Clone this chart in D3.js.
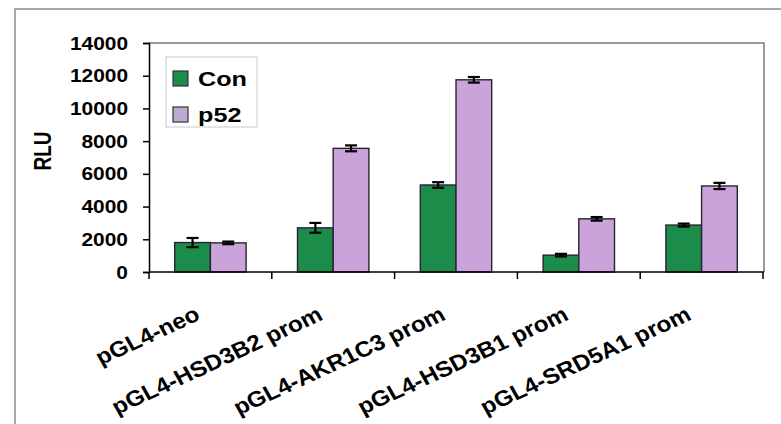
<!DOCTYPE html>
<html>
<head>
<meta charset="utf-8">
<script src="https://cdn.jsdelivr.net/npm/d3@7"></script>
<style>
  html, body { margin: 0; padding: 0; background: #fff; }
  svg { display: block; font-family: "Liberation Sans", Arial, sans-serif; }
</style>
</head>
<body>
<svg id="chart" width="781" height="424"></svg>
<script>
// Luciferase reporter activity per construct
const constructs = ["pGL4-neo", "pGL4-HSD3B2 prom", "pGL4-AKR1C3 prom", "pGL4-HSD3B1 prom", "pGL4-SRD5A1 prom"];
const seriesNames = ["Con", "p52"];
const conValues = [1800, 2700, 5320, 1030, 2870];
const conErrors = [280, 300, 170, 80, 90];
const p52Values = [1780, 7560, 11750, 3250, 5260];
const p52Errors = [80, 180, 170, 110, 190];
const yTicks = [0, 2000, 4000, 6000, 8000, 10000, 12000, 14000];
const yLabel = "RLU";

const colors = { Con: "#1c8c4a", p52: "#c9a3d9" };
const legendColors = { Con: "#1c8c4a", p52: "#bcaad0" };

const rows = constructs.map((c, i) => ({
  construct: c,
  bars: [
    { series: "Con", value: conValues[i], err: conErrors[i] },
    { series: "p52", value: p52Values[i], err: p52Errors[i] }
  ]
}));

const svg = d3.select("#chart");
const plot = { left: 149, right: 764, top: 43, bottom: 272 };

// outer chart frame
svg.append("rect")
  .attr("x", 15).attr("y", 9).attr("width", 800).attr("height", 440)
  .attr("fill", "none").attr("stroke", "#a8a8a8").attr("stroke-width", 2);

const x0 = d3.scaleBand().domain(constructs).range([plot.left, plot.right - 1]).padding(0);
const x1 = d3.scaleBand().domain(seriesNames).range([0, x0.bandwidth()])
  .paddingInner(0).paddingOuter(0.72);
const y = d3.scaleLinear().domain([0, 14000]).range([plot.bottom, plot.top]);

// plot area border (top and right)
svg.append("path")
  .attr("d", `M${plot.left},${plot.top}H${plot.right}V${plot.bottom}`)
  .attr("fill", "none").attr("stroke", "#7a7a7a").attr("stroke-width", 1.5);

// bars
const groups = svg.append("g").selectAll("g").data(rows).join("g")
  .attr("transform", d => `translate(${x0(d.construct)},0)`);

groups.selectAll("rect").data(d => d.bars).join("rect")
  .attr("x", d => x1(d.series))
  .attr("y", d => y(d.value))
  .attr("width", x1.bandwidth())
  .attr("height", d => y(0) - y(d.value))
  .attr("fill", d => colors[d.series])
  .attr("stroke", "#2a2233").attr("stroke-width", 1.4);

// error bars
const capHalf = 6;
const eb = groups.selectAll("g.err").data(d => d.bars).join("g").attr("class", "err")
  .attr("stroke", "#000").attr("stroke-width", 2.2);
eb.append("line")
  .attr("x1", d => x1(d.series) + x1.bandwidth() / 2)
  .attr("x2", d => x1(d.series) + x1.bandwidth() / 2)
  .attr("y1", d => y(d.value + d.err))
  .attr("y2", d => y(d.value - d.err));
eb.append("line")
  .attr("x1", d => x1(d.series) + x1.bandwidth() / 2 - capHalf)
  .attr("x2", d => x1(d.series) + x1.bandwidth() / 2 + capHalf)
  .attr("y1", d => y(d.value + d.err))
  .attr("y2", d => y(d.value + d.err));
eb.append("line")
  .attr("x1", d => x1(d.series) + x1.bandwidth() / 2 - capHalf)
  .attr("x2", d => x1(d.series) + x1.bandwidth() / 2 + capHalf)
  .attr("y1", d => y(d.value - d.err))
  .attr("y2", d => y(d.value - d.err));

// y axis
const yAxis = svg.append("g")
  .attr("transform", `translate(${plot.left},0)`)
  .call(d3.axisLeft(y).tickValues(yTicks).tickSize(6).tickPadding(15).tickFormat(d3.format("d")));
yAxis.select(".domain").attr("stroke", "#000").attr("stroke-width", 1.5);
yAxis.selectAll(".tick line").attr("stroke", "#000").attr("stroke-width", 1.5);
yAxis.selectAll(".tick text")
  .attr("font-size", 19).attr("font-weight", "bold").attr("fill", "#000")
  .attr("font-family", "Liberation Sans, Arial, sans-serif")
  .each(function () {
    const t = d3.select(this);
    const xPos = +t.attr("x");
    t.attr("x", null)
      .attr("transform", `translate(${xPos},0) scale(1.1,1)`);
  });

// x axis with ticks at category boundaries
const boundaries = constructs.map(c => x0(c)).concat([x0(constructs[constructs.length - 1]) + x0.bandwidth()]);
const xAxis = svg.append("g");
xAxis.append("line")
  .attr("x1", plot.left).attr("x2", plot.right)
  .attr("y1", plot.bottom).attr("y2", plot.bottom)
  .attr("stroke", "#000").attr("stroke-width", 1.5);
xAxis.selectAll("line.tk").data(boundaries).join("line").attr("class", "tk")
  .attr("x1", d => d).attr("x2", d => d)
  .attr("y1", plot.bottom).attr("y2", plot.bottom + 7)
  .attr("stroke", "#000").attr("stroke-width", 1.5);

// rotated category labels
xAxis.selectAll("text").data(constructs).join("text")
  .attr("transform", d => `translate(${x0(d) + x0.bandwidth() / 2 - 9},${plot.bottom + 47}) scale(1.1,1) rotate(-27)`)
  .attr("text-anchor", "end")
  .attr("font-size", 22).attr("font-weight", "bold").attr("fill", "#000")
  .text(d => d);

// y axis title
svg.append("text")
  .attr("transform", "translate(51,151) scale(1.25,1) rotate(-90)")
  .attr("text-anchor", "middle")
  .attr("font-size", 19).attr("font-weight", "bold").attr("fill", "#000")
  .text(yLabel);

// legend
const legend = svg.append("g").attr("transform", "translate(166,57)");
legend.append("rect")
  .attr("width", 91).attr("height", 70)
  .attr("fill", "#fff").attr("stroke", "#c8c8c8").attr("stroke-width", 1);
const items = legend.selectAll("g.item").data(seriesNames).join("g").attr("class", "item")
  .attr("transform", (d, i) => `translate(7,${14 + i * 36})`);
items.append("rect")
  .attr("width", 15).attr("height", 15)
  .attr("fill", d => legendColors[d]).attr("stroke", "#333").attr("stroke-width", 1.2);
items.append("text")
  .attr("transform", "translate(25,15) scale(1.2,1)")
  .attr("font-size", 21).attr("font-weight", "bold").attr("fill", "#000")
  .text(d => d);
</script>
</body>
</html>
